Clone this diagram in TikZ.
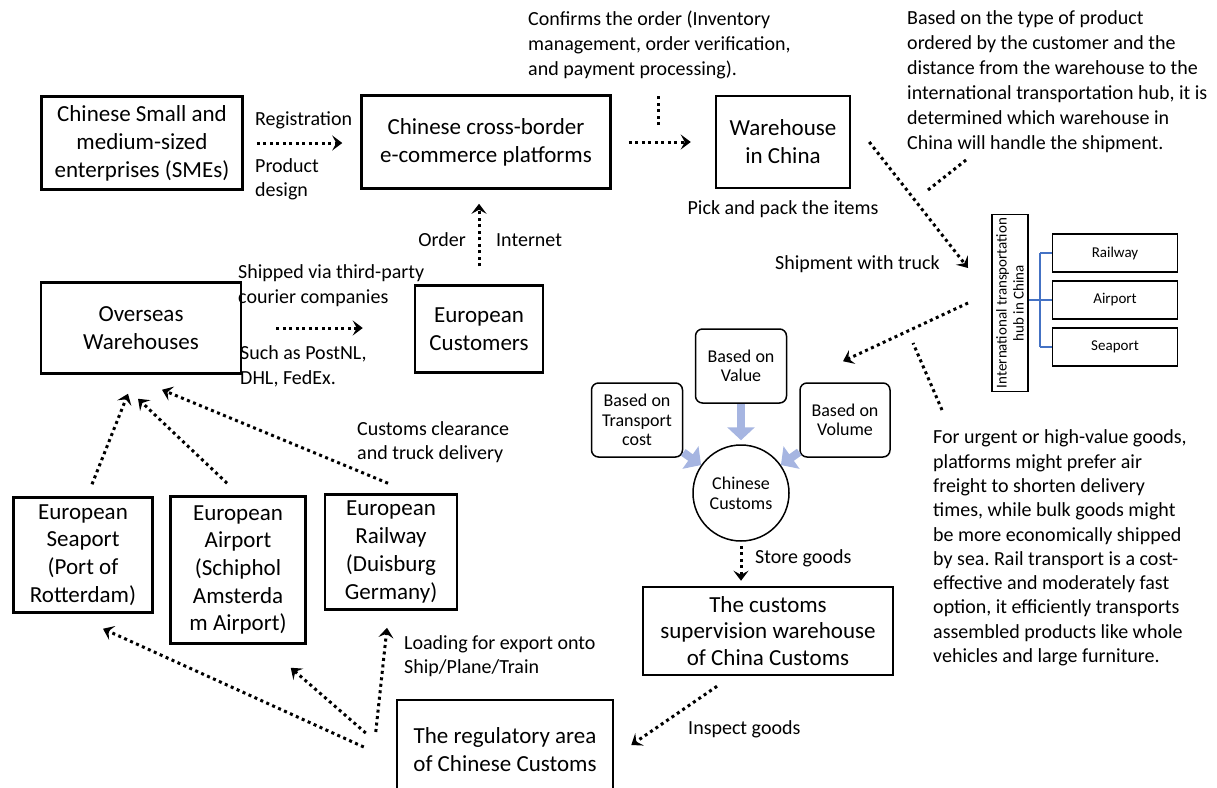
\documentclass[tikz,border=0pt]{standalone}
\usepackage{fontspec}
\setmainfont{Carlito}
\usetikzlibrary{arrows.meta}
\definecolor{hubblue}{RGB}{68,114,196}
\definecolor{lavender}{RGB}{166,181,225}
\frenchspacing

\begin{document}
\begin{tikzpicture}[
		x=1pt, y=-1pt,
		every node/.style={inner sep=0pt, align=left, font=\fontsize{20}{25}\selectfont},
		box/.style={draw, line width=2.5pt, align=center, font=\fontsize{23}{28}\selectfont},
		mode/.style={draw, line width=1.5pt, align=center, minimum width=125pt, minimum height=38pt, font=\fontsize{15}{18}\selectfont},
		basis/.style={draw, line width=1.5pt, rounded corners=7pt, align=center, minimum width=91pt, minimum height=74pt, font=\fontsize{18}{19.5}\selectfont},
		flow/.style={line width=3pt, dash pattern=on 3pt off 3.5pt, -{Stealth[length=10pt, width=15pt, inset=4pt]}},
		lead/.style={line width=3pt, dash pattern=on 3pt off 3.5pt},
		fat/.style={line width=8pt, draw=lavender, -{Triangle[length=13pt, width=27pt]}}
	]
  \useasboundingbox (0, 0) rectangle (1217, 787);

  \node (sme) [box, minimum width=201pt, minimum height=93pt] at (142, 143) {Chinese Small and\\medium-sized\\enterprises (SMEs)};
  \node (plat) [box, minimum width=249pt, minimum height=93pt] at (486, 142) {Chinese cross-border\\e-commerce platforms};
  \node (whcn) [box, minimum width=134pt, minimum height=92pt] at (783, 142) {Warehouse\\in China};
  \node (ovs) [box, minimum width=200pt, minimum height=91pt] at (141, 328) {Overseas\\Warehouses};
  \node (cust) [box, minimum width=128pt, minimum height=87pt] at (479, 329) {European\\Customers};
  \node (seap) [box, minimum width=139pt, minimum height=115pt, font=\fontsize{23}{27.7}\selectfont] at (83, 555) {European\\Seaport\\(Port of\\Rotterdam)};
  \node (airp) [box, minimum width=135pt, minimum height=147pt, font=\fontsize{23}{27.7}\selectfont] at (238, 570) {European\\Airport\\(Schiphol\\Amsterda\\m Airport)};
  \node (rail) [box, minimum width=132pt, minimum height=115pt, font=\fontsize{23}{27.7}\selectfont] at (391, 552) {European\\Railway\\(Duisburg\\Germany)};
  \node (superv) [box, minimum width=250pt, minimum height=88pt, font=\fontsize{23}{26.5}\selectfont] at (768, 631) {The customs\\supervision warehouse\\of China Customs};
  \node (reg) [box, minimum width=216pt, minimum height=100pt] at (505, 750) {The regulatory area\\of Chinese Customs};

  \node (hub) [draw, line width=1.5pt, rotate=90, align=center, minimum width=177pt, minimum height=36pt, font=\fontsize{15}{17}\selectfont] at (1010, 303) {International transportation\\hub in China};
  \node (h_rail) [mode] at (1115, 253) {Railway};
  \node (h_air) [mode] at (1115, 300) {Airport};
  \node (h_sea) [mode] at (1115, 347) {Seaport};
  \coordinate (fork) at (1040, 300);
  \draw [hubblue, line width=1.5pt] (hub.south |- h_air) -- (h_air.west) (fork |- h_rail) -- (fork |- h_sea);
  \foreach \m in {h_rail, h_sea}
    \draw [hubblue, line width=1.5pt] (fork |- \m) -- (\m.west);

  \node (b_val) [basis] at (741, 366) {Based on\\Value};
  \node (b_cost) [basis] at (637, 420) {Based on\\Transport\\cost};
  \node (b_vol) [basis, minimum width=90pt] at (845, 420) {Based on\\Volume};
  \node (cc) [circle, draw, line width=1.5pt, minimum size=96pt, align=center, font=\fontsize{18}{20}\selectfont] at (741, 493) {Chinese\\Customs};
  \draw [fat, shorten >=4pt] (b_val.south) -- (cc.north);
  \draw [fat] (b_cost.-35) -- (cc.145);
  \draw [fat] (b_vol.-145) -- (cc.35);

  \node (conf) [anchor=west] at (528, 45) {Confirms the order (Inventory\\management, order verification,\\and payment processing).};
  \node (basis_txt) [anchor=west] at (907, 82) {Based on the type of product\\ordered by the customer and the\\distance from the warehouse to the\\international transportation hub, it is\\determined which warehouse in\\China will handle the shipment.};
  \node (urgent) [anchor=west, font=\fontsize{20}{24.3}\selectfont] at (933, 548) {For urgent or high-value goods,\\platforms might prefer air\\freight to shorten delivery\\times, while bulk goods might\\be more economically shipped\\by sea. Rail transport is a cost-\\effective and moderately fast\\option, it efficiently transports\\assembled products like whole\\vehicles and large furniture.};
  \node (reg_lbl) [anchor=west] at (255, 120) {Registration};
  \node (prod_lbl) [anchor=west, font=\fontsize{20}{24}\selectfont] at (255, 179) {Product\\design};
  \node (pick_lbl) at (783, 209) {Pick and pack the items};
  \node (truck_lbl) [anchor=east] at (940, 264) {Shipment with truck};
  \node (order_lbl) [anchor=east] at (466, 240) {Order};
  \node (net_lbl) [anchor=west] at (496, 240) {Internet};
  \node (ship_lbl) [anchor=west] at (238, 285.5) {Shipped via third-party\\courier companies};
  \node (such_lbl) [anchor=west] at (240, 366.5) {Such as PostNL,\\DHL, FedEx.};
  \node (clear_lbl) [anchor=west, font=\fontsize{20}{24}\selectfont] at (357, 442) {Customs clearance\\and truck delivery};
  \node (store_lbl) [anchor=west] at (755, 558) {Store goods};
  \node (inspect_lbl) [anchor=west] at (688, 729) {Inspect goods};
  \node (load_lbl) [anchor=west, font=\fontsize{20}{24}\selectfont] at (404, 656) {Loading for export onto\\Ship/Plane/Train};

  \draw [flow, shorten <=13pt, shorten >=18pt] (sme.east) -- (sme.east -| plat.west);
  \draw [flow, shorten <=17pt, shorten >=24pt] (plat.east) -- (plat.east -| whcn.west);
  \draw [flow, shorten <=34pt, shorten >=51pt] (ovs.east) -- (ovs.east -| cust.west);
  \draw [flow, shorten <=18pt, shorten >=14pt] (cust.north) -- (cust.north |- plat.south);
  \draw [flow, shorten <=4pt, shorten >=5pt] (cc.south) -- (cc.south |- superv.north);
  \draw [flow] ([shift={(18,0)}]whcn.east) -- ([shift={(-42,-35)}]hub.center);
  \draw [flow] ([shift={(-42,0)}]hub.center) -- ([shift={(-2,-21)}]b_vol.north);
  \draw [flow] ([shift={(-51,10)}]superv.south) -- ([shift={(17,-5)}]reg.east);
  \draw [flow] ([shift={(-32,-3)}]reg.west) -- ([shift={(20,15)}]seap.south);
  \draw [flow] ([shift={(-30,-17)}]reg.west) -- ([shift={(-16,23)}]airp.south east);
  \draw [flow] ([shift={(-20,-18)}]reg.west) -- ([shift={(-4,17)}]rail.south);
  \draw [flow] ([shift={(9,-12)}]seap.north) -- ([shift={(-13,19)}]ovs.south);
  \draw [flow] ([shift={(-11,-12)}]airp.north) -- ([shift={(-3,24)}]ovs.south);
  \draw [flow] ([shift={(-3,-10)}]rail.north) -- ([shift={(21,15)}]ovs.south);

  \coordinate (conf_tick) at (658, 125);
  \coordinate (basis_tick) at (928, 190);
  \coordinate (urgent_tick) at (942, 410);
  \draw [lead] (conf_tick) -- ++(0, -30);
  \draw [lead] (basis_tick) -- ++(38, -30);
  \draw [lead] (urgent_tick) -- ++(-29, -67);
\end{tikzpicture}
\end{document}
